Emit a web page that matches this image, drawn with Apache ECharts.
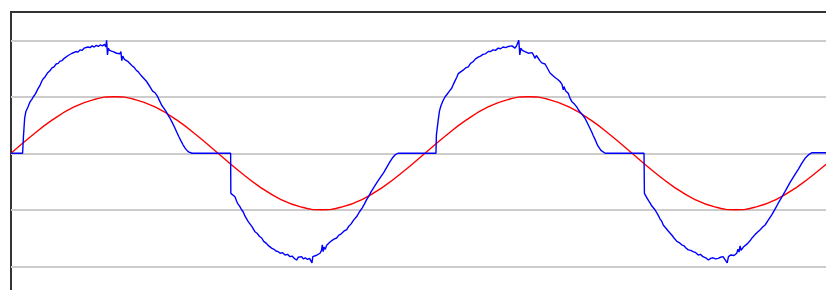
<!DOCTYPE html>
<html>
<head>
<meta charset="utf-8">
<script src="https://cdn.jsdelivr.net/npm/echarts@6/dist/echarts.min.js"></script>
<style>
  html, body { margin: 0; padding: 0; background: #fff; }
  #chart { width: 826px; height: 290px; }
</style>
</head>
<body>
<div id="chart"></div>
<script>
// time in ms, value in grid units (one grid step = 1)
const redTime = [0, 1, 2, 3, 4, 5, 6, 7, 8, 9, 10, 11, 12, 13, 14, 15, 16, 17, 18, 19, 20,
    21, 22, 23, 24, 25, 26, 27, 28, 29, 30, 31, 32, 33, 34, 35, 36, 37, 38, 39, 40]
const redValue = [0, 0.31, 0.59, 0.81, 0.95, 1, 0.95, 0.81, 0.59, 0.31, 0,
    -0.31, -0.59, -0.81, -0.95, -1, -0.95, -0.81, -0.59, -0.31, 0,
    0.31, 0.59, 0.81, 0.95, 1, 0.95, 0.81, 0.59, 0.31, 0,
    -0.31, -0.59, -0.81, -0.95, -1, -0.95, -0.81, -0.59, -0.31, 0]

// blue trace, one array per half cycle, [time, value]
const bluePos1 = [[0, 0], [0.56, 0], [0.60, 0.29], [0.66, 0.62], [0.72, 0.74], [0.82, 0.82], [0.92, 0.91], [1.00, 0.95],
    [1.08, 1.00], [1.18, 1.05], [1.30, 1.14], [1.40, 1.20], [1.48, 1.27], [1.56, 1.32], [1.66, 1.36], [1.76, 1.42],
    [1.88, 1.46], [1.98, 1.51], [2.08, 1.53], [2.18, 1.58], [2.28, 1.59], [2.37, 1.63], [2.47, 1.64], [2.57, 1.68],
    [2.66, 1.69], [2.76, 1.73], [2.85, 1.73], [2.95, 1.77], [3.04, 1.76], [3.14, 1.80], [3.24, 1.79], [3.33, 1.83],
    [3.43, 1.82], [3.53, 1.86], [3.62, 1.84], [3.72, 1.88], [3.82, 1.87], [3.92, 1.90], [4.02, 1.88], [4.12, 1.91],
    [4.22, 1.89], [4.32, 1.92], [4.42, 1.90], [4.52, 1.93], [4.58, 1.88], [4.62, 2.00], [4.66, 1.74], [4.70, 1.86],
    [4.76, 1.82], [4.84, 1.84], [4.93, 1.80], [5.02, 1.81], [5.10, 1.77], [5.18, 1.78], [5.26, 1.76], [5.31, 1.80],
    [5.35, 1.64], [5.40, 1.72], [5.48, 1.66], [5.56, 1.67], [5.66, 1.62], [5.75, 1.60], [5.85, 1.55], [5.95, 1.52],
    [6.05, 1.47], [6.15, 1.44], [6.23, 1.40], [6.33, 1.36], [6.43, 1.32], [6.53, 1.28], [6.62, 1.23], [6.71, 1.18],
    [6.80, 1.16], [6.84, 1.10], [6.90, 1.11], [6.96, 1.07], [7.04, 1.03], [7.10, 0.99], [7.16, 0.94], [7.22, 0.91],
    [7.28, 0.85], [7.38, 0.80], [7.49, 0.74], [7.58, 0.68], [7.68, 0.62], [7.78, 0.55], [7.89, 0.47], [8.00, 0.38],
    [8.10, 0.30], [8.21, 0.22], [8.31, 0.15], [8.41, 0.09], [8.50, 0.05], [8.60, 0.02], [8.75, 0], [10.61, 0]]
const blueNeg1 = [[10.62, -0.71], [10.70, -0.73], [10.82, -0.77], [10.90, -0.85], [10.97, -0.90], [11.05, -0.94],
    [11.14, -1.00], [11.22, -1.04], [11.30, -1.11], [11.38, -1.14], [11.46, -1.21], [11.55, -1.24], [11.64, -1.30],
    [11.72, -1.33], [11.79, -1.39], [11.90, -1.42], [12.00, -1.47], [12.11, -1.50], [12.21, -1.56], [12.32, -1.59],
    [12.45, -1.64], [12.59, -1.68], [12.70, -1.70], [12.80, -1.73], [12.90, -1.74], [13.00, -1.77], [13.12, -1.76],
    [13.24, -1.80], [13.36, -1.79], [13.48, -1.83], [13.58, -1.82], [13.68, -1.86], [13.80, -1.89], [13.88, -1.84],
    [13.96, -1.86], [14.04, -1.83], [14.12, -1.87], [14.22, -1.85], [14.32, -1.88], [14.42, -1.86], [14.50, -1.84],
    [14.54, -1.94], [14.58, -1.83], [14.66, -1.85], [14.73, -1.81], [14.82, -1.80], [14.93, -1.77], [15.00, -1.72],
    [15.04, -1.62], [15.08, -1.74], [15.12, -1.66], [15.18, -1.70], [15.25, -1.63], [15.33, -1.62], [15.41, -1.57],
    [15.50, -1.56], [15.60, -1.52], [15.73, -1.50], [15.84, -1.45], [15.94, -1.43], [16.08, -1.38], [16.22, -1.35],
    [16.32, -1.29], [16.43, -1.25], [16.56, -1.18], [16.70, -1.12], [16.83, -1.04], [16.96, -0.97], [17.07, -0.90],
    [17.18, -0.82], [17.30, -0.75], [17.40, -0.68], [17.50, -0.62], [17.62, -0.55], [17.73, -0.49], [17.86, -0.42],
    [17.99, -0.35], [18.15, -0.25], [18.31, -0.15], [18.43, -0.08], [18.55, -0.03], [18.70, 0], [20.53, 0]]
const bluePos2 = [[20.55, 0.32], [20.64, 0.59], [20.70, 0.75], [20.77, 0.84], [20.87, 0.93], [20.97, 1.00], [21.06, 1.04],
    [21.16, 1.09], [21.29, 1.15], [21.37, 1.22], [21.45, 1.28], [21.53, 1.34], [21.61, 1.41], [21.72, 1.44], [21.84, 1.47],
    [21.96, 1.51], [22.09, 1.53], [22.20, 1.59], [22.32, 1.62], [22.44, 1.67], [22.57, 1.70], [22.68, 1.72], [22.80, 1.75],
    [22.92, 1.76], [23.06, 1.80], [23.17, 1.80], [23.28, 1.83], [23.40, 1.82], [23.54, 1.86], [23.65, 1.85], [23.77, 1.88],
    [23.90, 1.87], [24.03, 1.89], [24.12, 1.87], [24.20, 1.90], [24.28, 1.89], [24.35, 1.86], [24.42, 1.90], [24.49, 1.93],
    [24.53, 2.00], [24.58, 1.74], [24.63, 1.86], [24.70, 1.82], [24.78, 1.83], [24.88, 1.79], [24.99, 1.77], [25.08, 1.80],
    [25.17, 1.78], [25.24, 1.74], [25.31, 1.68], [25.38, 1.73], [25.46, 1.71], [25.55, 1.64], [25.64, 1.60], [25.72, 1.62],
    [25.80, 1.58], [25.92, 1.50], [26.04, 1.42], [26.16, 1.38], [26.28, 1.34], [26.40, 1.31], [26.52, 1.27], [26.62, 1.22],
    [26.68, 1.12], [26.71, 1.18], [26.80, 1.10], [26.92, 1.06], [27.00, 0.98], [27.05, 1.00], [27.10, 0.91], [27.22, 0.87],
    [27.33, 0.82], [27.41, 0.77], [27.49, 0.73], [27.61, 0.68], [27.73, 0.62], [27.89, 0.50], [28.05, 0.38], [28.13, 0.31],
    [28.21, 0.25], [28.29, 0.18], [28.37, 0.12], [28.50, 0.05], [28.70, 0], [30.58, 0]]
const blueNeg2 = [[30.60, -0.71], [30.66, -0.75], [30.72, -0.79], [30.80, -0.84], [30.87, -0.88], [30.95, -0.93],
    [31.03, -0.95], [31.11, -1.00], [31.19, -1.03], [31.27, -1.10], [31.35, -1.16], [31.43, -1.20], [31.51, -1.27],
    [31.60, -1.31], [31.68, -1.34], [31.76, -1.38], [31.84, -1.41], [31.95, -1.46], [32.05, -1.51], [32.17, -1.56],
    [32.28, -1.58], [32.40, -1.62], [32.52, -1.64], [32.62, -1.68], [32.72, -1.71], [32.84, -1.72], [32.95, -1.74],
    [33.08, -1.76], [33.20, -1.80], [33.31, -1.79], [33.43, -1.83], [33.56, -1.85], [33.69, -1.89], [33.80, -1.86],
    [33.91, -1.85], [34.04, -1.87], [34.17, -1.86], [34.28, -1.84], [34.40, -1.83], [34.47, -1.87], [34.54, -1.89],
    [34.60, -1.94], [34.66, -1.83], [34.72, -1.86], [34.78, -1.80], [34.86, -1.82], [34.93, -1.81], [35.00, -1.78],
    [35.06, -1.77], [35.12, -1.70], [35.17, -1.75], [35.22, -1.64], [35.27, -1.72], [35.31, -1.74], [35.38, -1.66],
    [35.46, -1.65], [35.58, -1.60], [35.70, -1.55], [35.82, -1.49], [35.94, -1.44], [36.06, -1.40], [36.18, -1.36],
    [36.30, -1.31], [36.43, -1.27], [36.59, -1.18], [36.75, -1.09], [36.91, -0.99], [37.07, -0.88], [37.23, -0.78],
    [37.39, -0.68], [37.51, -0.60], [37.63, -0.52], [37.75, -0.45], [37.87, -0.38], [38.04, -0.28], [38.20, -0.18],
    [38.36, -0.09], [38.52, -0.03], [38.70, 0.01], [40, 0.01]]

let chart = echarts.init(document.getElementById('chart'), null, { renderer: 'canvas' })

let redData = redTime.map((t, i) => [t, redValue[i]])
let blueData = bluePos1.concat(blueNeg1, bluePos2, blueNeg2)

let option = {
    animation: false,
    backgroundColor: '#fff',
    // plot runs past the right and bottom edges of the window, like the reference crop
    grid: {
        left: 11,
        top: 12,
        width: 828,
        height: 282.5,
        outerBoundsMode: 'none',
        show: true,
        borderColor: '#333',
        borderWidth: 2
    },
    xAxis: {
        type: 'value',
        min: 0,
        max: 40,
        show: false
    },
    yAxis: {
        type: 'value',
        min: -2.5,
        max: 2.5,
        splitNumber: 5,
        axisLine: { show: false },
        axisTick: { show: false },
        axisLabel: { show: false },
        splitLine: {
            showMinLine: false,
            showMaxLine: false,
            lineStyle: { color: '#cccccc', width: 2 }
        }
    },
    series: [{
        name: 'red',
        type: 'line',
        data: redData,
        smooth: true,
        showSymbol: false,
        lineStyle: { color: '#ff0000', width: 1.4 }
    }, {
        name: 'blue',
        type: 'line',
        data: blueData,
        showSymbol: false,
        lineStyle: { color: '#0000ff', width: 1.4 }
    }]
}
chart.setOption(option)
</script>
</body>
</html>
